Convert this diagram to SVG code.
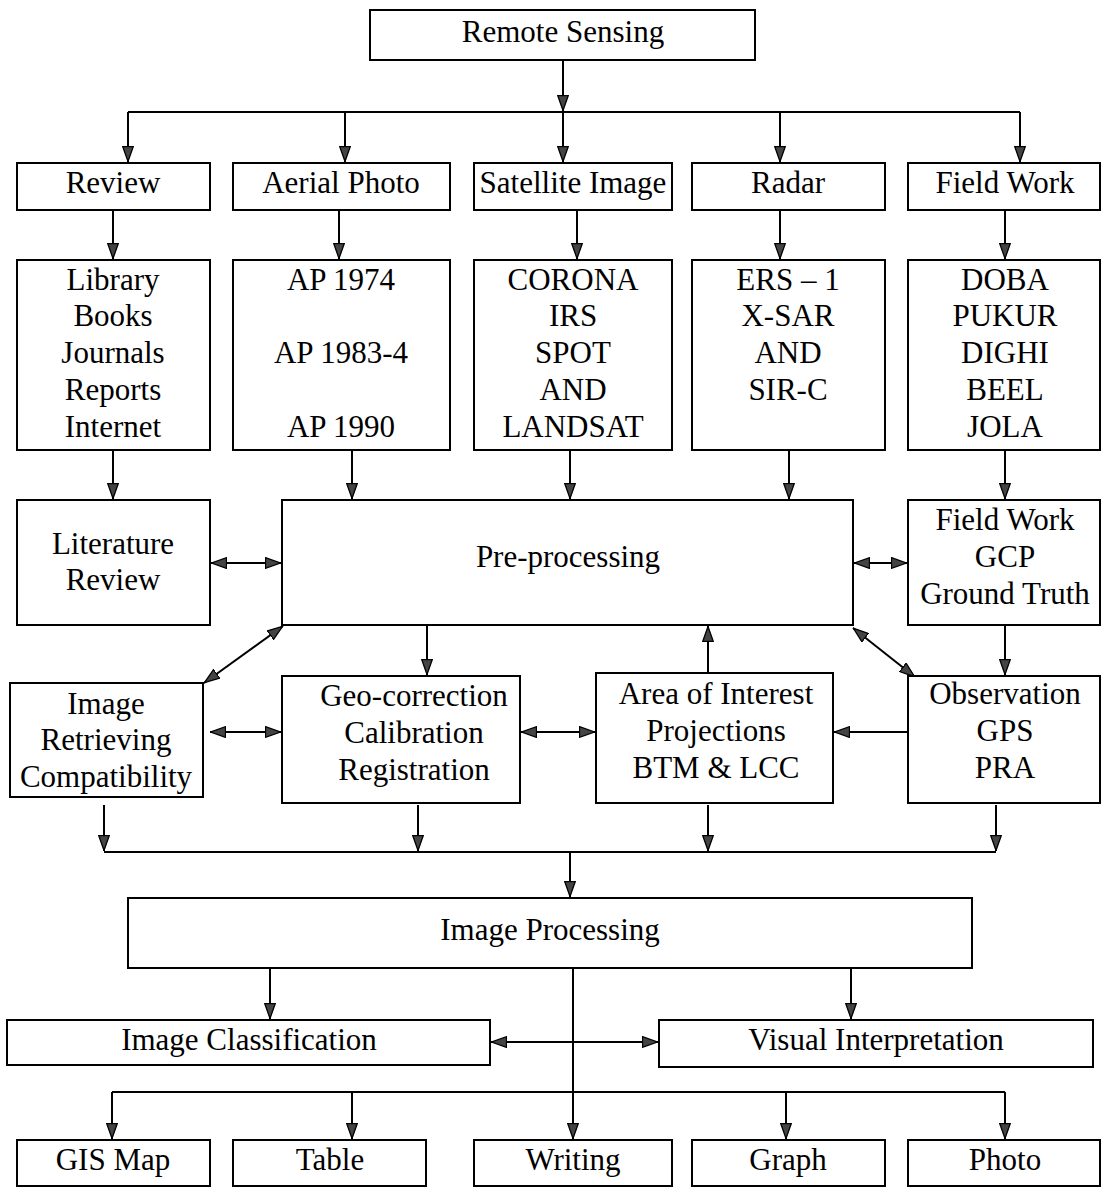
<svg xmlns="http://www.w3.org/2000/svg" width="1104" height="1188" viewBox="0 0 1104 1188">
<style>
.b{fill:#fff;stroke:#000;stroke-width:2}
.t{font-family:"Liberation Serif","Times New Roman",serif;font-size:31px;fill:#000;text-anchor:middle}
.c{fill:none;stroke:#000;stroke-width:2}
.a{marker-end:url(#ah)}
.d{marker-start:url(#ah);marker-end:url(#ah)}
</style>
<defs>
<marker id="ah" markerUnits="userSpaceOnUse" viewBox="0 0 16 12" markerWidth="16" markerHeight="12" refX="16" refY="6" orient="auto-start-reverse">
<path d="M0.5,0.7 L15.5,6 L0.5,11.3 z" fill="#444" stroke="#000" stroke-width="1.3"/>
</marker>
</defs>
<rect width="1104" height="1188" fill="#fff"/>
<g id="connectors">
<path class="c a" d="M563,60 V111"/>
<path class="c" d="M128,112 H1020"/>
<path class="c a" d="M128,112 V162"/>
<path class="c a" d="M345,112 V162"/>
<path class="c a" d="M563,112 V162"/>
<path class="c a" d="M780,112 V162"/>
<path class="c a" d="M1020,112 V162"/>
<path class="c a" d="M113,210 V259"/>
<path class="c a" d="M339,210 V259"/>
<path class="c a" d="M577,210 V259"/>
<path class="c a" d="M780,210 V259"/>
<path class="c a" d="M1005,210 V259"/>
<path class="c a" d="M113,450 V499"/>
<path class="c a" d="M352,450 V499"/>
<path class="c a" d="M570,450 V499"/>
<path class="c a" d="M789,450 V499"/>
<path class="c a" d="M1005,450 V499"/>
<path class="c d" d="M211,563 H281"/>
<path class="c d" d="M854,563 H907"/>
<path class="c a" d="M427,625 V675"/>
<path class="c d" d="M283,626 L204,683"/>
<path class="c a" d="M708,672 V626"/>
<path class="c d" d="M853,628 L915,677"/>
<path class="c a" d="M1005,625 V675"/>
<path class="c d" d="M210,732 H281"/>
<path class="c d" d="M521,732 H595"/>
<path class="c a" d="M907,732 H834"/>
<path class="c a" d="M104,805 V851"/>
<path class="c a" d="M418,805 V851"/>
<path class="c a" d="M708,805 V851"/>
<path class="c a" d="M996,805 V851"/>
<path class="c" d="M104,852 H996"/>
<path class="c a" d="M570,852 V897"/>
<path class="c a" d="M270,968 V1019"/>
<path class="c a" d="M851,968 V1019"/>
<path class="c" d="M573,968 V1092"/>
<path class="c" d="M112,1092 H1005"/>
<path class="c a" d="M112,1092 V1139"/>
<path class="c a" d="M352,1092 V1139"/>
<path class="c a" d="M573,1092 V1139"/>
<path class="c a" d="M786,1092 V1139"/>
<path class="c a" d="M1005,1092 V1139"/>
<path class="c d" d="M491,1042 H658"/>
</g>
<g id="remote-sensing"><rect class="b" x="370" y="10" width="385" height="50"/><text class="t" x="563" y="42">Remote Sensing</text></g>
<g id="review"><rect class="b" x="17" y="163" width="193" height="47"/><text class="t" x="113" y="193">Review</text></g>
<g id="aerial-photo"><rect class="b" x="233" y="163" width="217" height="47"/><text class="t" x="341" y="193">Aerial Photo</text></g>
<g id="satellite-image"><rect class="b" x="474" y="163" width="198" height="47"/><text class="t" x="573" y="193">Satellite Image</text></g>
<g id="radar"><rect class="b" x="692" y="163" width="193" height="47"/><text class="t" x="788" y="193">Radar</text></g>
<g id="field-work"><rect class="b" x="908" y="163" width="192" height="47"/><text class="t" x="1005" y="193">Field Work</text></g>
<g id="library"><rect class="b" x="17" y="260" width="193" height="190"/>
<text class="t" x="113" y="290">Library</text><text class="t" x="113" y="326">Books</text><text class="t" x="113" y="363">Journals</text><text class="t" x="113" y="400">Reports</text><text class="t" x="113" y="437">Internet</text></g>
<g id="ap"><rect class="b" x="233" y="260" width="217" height="190"/>
<text class="t" x="341" y="290">AP 1974</text><text class="t" x="341" y="363">AP 1983-4</text><text class="t" x="341" y="437">AP 1990</text></g>
<g id="corona"><rect class="b" x="474" y="260" width="198" height="190"/>
<text class="t" x="573" y="290">CORONA</text><text class="t" x="573" y="326">IRS</text><text class="t" x="573" y="363">SPOT</text><text class="t" x="573" y="400">AND</text><text class="t" x="573" y="437">LANDSAT</text></g>
<g id="ers"><rect class="b" x="692" y="260" width="193" height="190"/>
<text class="t" x="788" y="290">ERS – 1</text><text class="t" x="788" y="326">X-SAR</text><text class="t" x="788" y="363">AND</text><text class="t" x="788" y="400">SIR-C</text></g>
<g id="doba"><rect class="b" x="908" y="260" width="192" height="190"/>
<text class="t" x="1005" y="290">DOBA</text><text class="t" x="1005" y="326">PUKUR</text><text class="t" x="1005" y="363">DIGHI</text><text class="t" x="1005" y="400">BEEL</text><text class="t" x="1005" y="437">JOLA</text></g>
<g id="literature-review"><rect class="b" x="17" y="500" width="193" height="125"/>
<text class="t" x="113" y="554">Literature</text><text class="t" x="113" y="590">Review</text></g>
<g id="pre-processing"><rect class="b" x="282" y="500" width="571" height="125"/>
<text class="t" x="568" y="567">Pre-processing</text></g>
<g id="field-work-gcp"><rect class="b" x="908" y="500" width="192" height="125"/>
<text class="t" x="1005" y="530">Field Work</text><text class="t" x="1005" y="567">GCP</text><text class="t" x="1005" y="604">Ground Truth</text></g>
<g id="image-retrieving"><rect class="b" x="10" y="683" width="193" height="114"/>
<text class="t" x="106" y="714">Image</text><text class="t" x="106" y="750">Retrieving</text><text class="t" x="106" y="787">Compatibility</text></g>
<g id="geo-correction"><rect class="b" x="282" y="676" width="238" height="127"/>
<text class="t" x="414" y="706">Geo-correction</text><text class="t" x="414" y="743">Calibration</text><text class="t" x="414" y="780">Registration</text></g>
<g id="area-of-interest"><rect class="b" x="596" y="673" width="237" height="130"/>
<text class="t" x="716" y="704">Area of Interest</text><text class="t" x="716" y="741">Projections</text><text class="t" x="716" y="778">BTM &amp; LCC</text></g>
<g id="observation"><rect class="b" x="908" y="676" width="192" height="127"/>
<text class="t" x="1005" y="704">Observation</text><text class="t" x="1005" y="741">GPS</text><text class="t" x="1005" y="778">PRA</text></g>
<g id="image-processing"><rect class="b" x="128" y="898" width="844" height="70"/>
<text class="t" x="550" y="940">Image Processing</text></g>
<g id="image-classification"><rect class="b" x="7" y="1020" width="483" height="45"/>
<text class="t" x="249" y="1050">Image Classification</text></g>
<g id="visual-interpretation"><rect class="b" x="659" y="1020" width="434" height="47"/>
<text class="t" x="876" y="1050">Visual Interpretation</text></g>
<g id="gis-map"><rect class="b" x="17" y="1140" width="193" height="46"/><text class="t" x="113" y="1170">GIS Map</text></g>
<g id="table"><rect class="b" x="233" y="1140" width="193" height="46"/><text class="t" x="330" y="1170">Table</text></g>
<g id="writing"><rect class="b" x="474" y="1140" width="198" height="46"/><text class="t" x="573" y="1170">Writing</text></g>
<g id="graph"><rect class="b" x="692" y="1140" width="193" height="46"/><text class="t" x="788" y="1170">Graph</text></g>
<g id="photo"><rect class="b" x="908" y="1140" width="192" height="46"/><text class="t" x="1005" y="1170">Photo</text></g>
</svg>
